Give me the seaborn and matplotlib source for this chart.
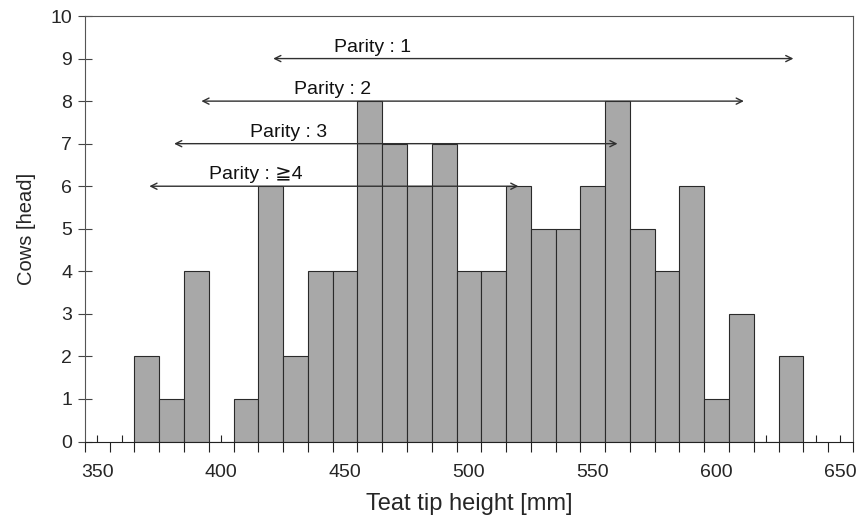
import numpy as np
import seaborn as sns
import matplotlib.pyplot as plt
from matplotlib.ticker import MultipleLocator, FixedLocator

# Histogram data: bin centres (mm) and number of cows
centers = [370, 380, 390, 400, 410, 420, 430, 440, 450, 460, 470, 480, 490, 500,
           510, 520, 530, 540, 550, 560, 570, 580, 590, 600, 610, 620, 630]
counts = [2, 1, 4, 0, 1, 6, 2, 4, 4, 8, 7, 6, 7, 4,
          4, 6, 5, 5, 6, 8, 5, 4, 6, 1, 3, 0, 2]

# Parity range arrows
parity_labels = ['Parity : 1', 'Parity : 2', 'Parity : 3', 'Parity : ≧4']
parity_start = [421, 392, 381, 371]
parity_end = [631, 611, 560, 520]
parity_level = [9, 8, 7, 6]
parity_text_x = [461, 445, 427, 414]

sns.set_style('white')
plt.rcParams['font.family'] = ['Liberation Sans', 'DejaVu Sans']

fig = plt.figure(figsize=(8.58, 5.17), dpi=100)
ax = fig.add_axes([0.099, 0.146, 0.895, 0.823])

sns.histplot(x=centers, weights=counts, binwidth=10, binrange=(365, 635),
             color='#a8a8a8', alpha=1, edgecolor='#2a2a2a', linewidth=0.8, ax=ax)

for lab, x0, x1, y, tx in zip(parity_labels, parity_start, parity_end, parity_level, parity_text_x):
    ax.annotate('', xy=(x1, y), xytext=(x0, y),
                arrowprops=dict(arrowstyle='<->', color='#303030', lw=1.0,
                                shrinkA=0, shrinkB=0, mutation_scale=11))
    ax.text(tx, y + 0.07, lab, ha='center', va='bottom', fontsize=14, color='#111111')

ax.set_xlim(345, 655)
ax.set_ylim(0, 10)
ax.yaxis.set_major_locator(MultipleLocator(1))

# labels every 50, small inside ticks at bin centres, outside ticks at bin edges
ax.xaxis.set_major_locator(FixedLocator(np.arange(350, 651, 10)))
ax.set_xticklabels([str(v) if v % 50 == 0 else '' for v in range(350, 651, 10)])
ax.xaxis.set_minor_locator(FixedLocator(np.arange(345, 656, 10)))
ax.tick_params(axis='x', which='major', direction='in', length=5, width=0.8,
               color='#222222', labelsize=14, pad=16)
ax.tick_params(axis='x', which='minor', direction='out', length=7, width=0.8, color='#222222')
ax.tick_params(axis='y', which='major', direction='inout', length=10.5, width=0.8,
               color='#444444', labelsize=14, pad=4)
ax.tick_params(bottom=True, left=True, which='both')

for s in ax.spines.values():
    s.set_color('#555555')
    s.set_linewidth(0.8)
ax.spines['bottom'].set_color('#222222')

ax.set_xlabel('Teat tip height [mm]', fontsize=17, labelpad=8.5)
ax.set_ylabel('Cows [head]', fontsize=14.5, labelpad=10)

plt.savefig('out.png', dpi=100)
